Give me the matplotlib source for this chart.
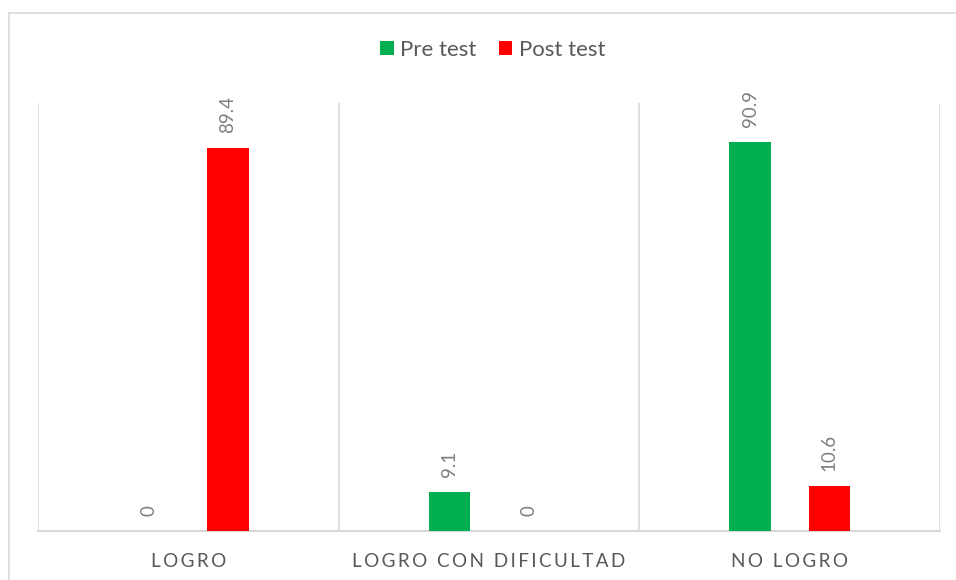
import matplotlib.pyplot as plt
import numpy as np
from matplotlib.lines import Line2D
from matplotlib.patches import Patch

plt.rcParams['font.family'] = ['Lato', 'DejaVu Sans']

categories = ["LOGRO", "LOGRO CON DIFICULTAD", "NO LOGRO"]
series_names = ["Pre test", "Post test"]
pre_test = [0, 9.1, 90.9]
post_test = [89.4, 0, 10.6]
colors = ["#00B050", "#FF0000"]

TEXT = "#595959"
LABEL = "#7f7f7f"
GRID = "#d9d9d9"


def spaced(s):
    # mimic Excel's expanded character spacing
    return "  ".join("\u2009".join(w) for w in s.split(" "))


fig = plt.figure(figsize=(9.56, 5.8), dpi=100)
W, H = 956, 580
ax = fig.add_axes([38 / W, 1 - 531 / H, (940 - 38) / W, (531 - 103) / H])

# outer chart border (Excel chart area)
fig.add_artist(Line2D([8.5 / W, 8.5 / W], [0, 1 - 12.5 / H], color=GRID, lw=1.2,
                      transform=fig.transFigure))
fig.add_artist(Line2D([8.5 / W, 1], [1 - 12.5 / H, 1 - 12.5 / H], color=GRID, lw=1.2,
                      transform=fig.transFigure))

x = np.arange(len(categories))
bw = 0.137
off = 0.1317
for vals, c, sign in zip([pre_test, post_test], colors, [-1, 1]):
    b = ax.bar(x + sign * off, vals, width=bw, color=c, zorder=3)
    for rect, v in zip(b, vals):
        ax.annotate(f"{v:g}", (rect.get_x() + rect.get_width() / 2, rect.get_height()),
                    xytext=(0, 15), textcoords="offset pixels", rotation=90,
                    ha="center", va="bottom", color=LABEL, fontsize=13.5)

ax.set_xlim(-0.5, 2.5)
ax.set_ylim(0, 100)
for xv in [-0.5, 0.5, 1.5, 2.5]:
    ax.axvline(xv, color=GRID, lw=1.2, zorder=1)
for s in ["left", "right", "top"]:
    ax.spines[s].set_visible(False)
ax.spines["bottom"].set_color(GRID)
ax.spines["bottom"].set_linewidth(1.5)
ax.set_yticks([])
ax.set_xticks(x)
ax.set_xticklabels([spaced(c) for c in categories], color=TEXT, fontsize=13.6)
ax.tick_params(axis="x", length=0, pad=16)

handles = [Patch(facecolor=c, edgecolor="none") for c in colors]
fig.legend(handles, series_names, loc="center", bbox_to_anchor=(493 / W, 1 - 50 / H),
           ncol=2, frameon=False, fontsize=16, labelcolor=TEXT,
           handlelength=0.6, handleheight=0.6, handletextpad=0.3, columnspacing=1.0)

fig.savefig("out.png", dpi=100)
